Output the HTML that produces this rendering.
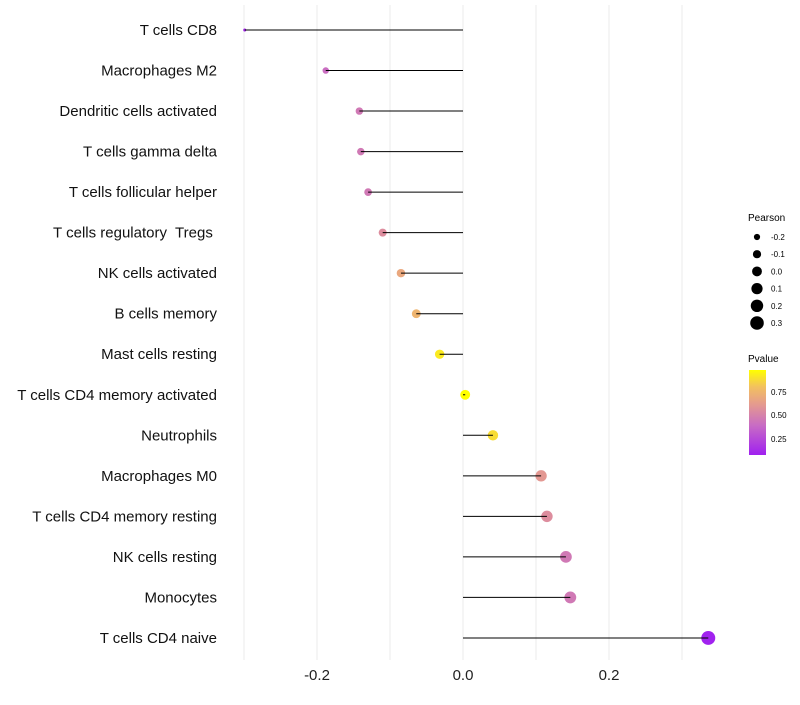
<!DOCTYPE html>
<html><head><meta charset="utf-8"><style>
body{margin:0;background:#fff;}
svg text{font-family:"Liberation Sans",sans-serif;white-space:pre;}
</style></head><body>
<svg id="chart" width="800" height="700">
<defs><linearGradient id="pg" x1="0" y1="1" x2="0" y2="0">
<stop offset="0" stop-color="#a020f0"/><stop offset="0.35" stop-color="#c86cc4"/><stop offset="0.6" stop-color="#e59b8e"/><stop offset="0.8" stop-color="#f2c060"/><stop offset="1" stop-color="#ffff00"/></linearGradient></defs>
<g id="grid"></g><g id="marks"></g><g id="labels"></g>
<g>
<text x="748" y="221" font-size="10">Pearson</text>
<g id="sizeleg"></g></g>
<g>
<text x="748" y="362" font-size="10">Pvalue</text>
<rect x="749" y="370" width="17" height="85" fill="url(#pg)"/>
<text x="771" y="395" font-size="8">0.75</text>
<text x="771" y="418" font-size="8">0.50</text>
<text x="771" y="442" font-size="8">0.25</text>
</g>
</svg>
<script>
const categories=["T cells CD8","Macrophages M2","Dendritic cells activated","T cells gamma delta","T cells follicular helper","T cells regulatory  Tregs ","NK cells activated","B cells memory","Mast cells resting","T cells CD4 memory activated","Neutrophils","Macrophages M0","T cells CD4 memory resting","NK cells resting","Monocytes","T cells CD4 naive"];
const pearson=[-0.299,-0.188,-0.142,-0.140,-0.130,-0.110,-0.085,-0.064,-0.032,0.003,0.041,0.107,0.115,0.141,0.147,0.336];
const pvalue=[0.10,0.40,0.45,0.45,0.45,0.55,0.68,0.74,0.92,0.98,0.88,0.60,0.55,0.45,0.45,0.08];
const xTicks=[-0.2,0.0,0.2];
const gridVals=[-0.3,-0.2,-0.1,0,0.1,0.2,0.3];
const sizeLegend=[-0.2,-0.1,0.0,0.1,0.2,0.3];
const NS="http://www.w3.org/2000/svg";
const xS=v=>463+v*730;
const yS=i=>30+i*40.53;
const rS=v=>Math.sqrt(Math.max(2.2,24.2+73*v));
const stops=[[0,[160,32,240]],[0.35,[200,108,196]],[0.6,[229,155,142]],[0.8,[242,192,96]],[1,[255,255,0]]];
function col(p){let t=(p-0.07)/(0.98-0.07);t=Math.max(0,Math.min(1,t));
for(let k=1;k<stops.length;k++){if(t<=stops[k][0]){const a=stops[k-1],b=stops[k];const f=(t-a[0])/(b[0]-a[0]);
return "rgb("+a[1].map((c,j)=>Math.round(c+(b[1][j]-c)*f)).join(",")+")";}}return "rgb(255,255,0)";}
function mk(t,attrs,parent){const e=document.createElementNS(NS,t);for(const k in attrs)e.setAttribute(k,attrs[k]);document.getElementById(parent).appendChild(e);return e;}
gridVals.forEach(v=>{const l=mk("line",{x1:xS(v),x2:xS(v),y1:5,y2:660,stroke:"#ebebeb","stroke-width":1},"grid");

});
xTicks.forEach(v=>{const t=mk("text",{x:xS(v),y:680,"font-size":15,"text-anchor":"middle",fill:"#222"},"labels");t.textContent=v.toFixed(1);

});
categories.forEach((c,i)=>{const y=yS(i);
const t=mk("text",{x:217,y:y+5,"font-size":15,"text-anchor":"end",fill:"#111"},"labels");t.textContent=c;


const d=mk("circle",{cx:xS(pearson[i]),cy:y,r:rS(pearson[i]),fill:col(pvalue[i])},"marks");


const l=mk("line",{x1:xS(0),x2:xS(pearson[i]),y1:y,y2:y,stroke:"#000","stroke-width":1},"marks");

});
sizeLegend.forEach((v,i)=>{const y=237+i*17.2;
const c=mk("circle",{cx:757,cy:y,r:rS(v),fill:"#000"},"sizeleg");


const t=mk("text",{x:771,y:y+3,"font-size":8},"sizeleg");t.textContent=v.toFixed(1);

});
</script>
</body></html>
